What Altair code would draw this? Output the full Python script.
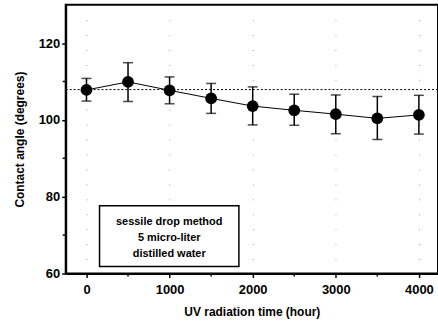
import altair as alt
import pandas as pd

hours = [0, 500, 1000, 1500, 2000, 2500, 3000, 3500, 4000]
angle = [107.8, 109.9, 107.7, 105.6, 103.6, 102.5, 101.5, 100.4, 101.3]
err_hi = [110.8, 114.9, 111.2, 109.5, 108.6, 106.7, 106.5, 106.1, 106.4]
err_lo = [104.9, 104.8, 104.2, 101.7, 98.7, 98.6, 96.4, 94.9, 96.3]
ref_angle = 107.9
legend_lines = ["sessile drop method", "5 micro-liter", "distilled water"]
y_minor = [70, 90, 110]
x_minor = [500, 1500, 2500, 3500]

df = pd.DataFrame({"h": hours, "a": angle, "hi": err_hi, "lo": err_lo})
FONT = "Liberation Sans"

xs = alt.Scale(domain=[-250, 4230], nice=False, zero=False)
ys = alt.Scale(domain=[60, 130], nice=False, zero=False)

xax = alt.Axis(values=[0, 1000, 2000, 3000, 4000], format="d", title="UV radiation time (hour)",
               grid=True, gridColor="#666", gridDash=[1, 14], gridOpacity=0.6,
               domainColor="black", domainWidth=2, tickColor="black", tickWidth=1.5,
               tickSize=4, labelPadding=6, labelFont=FONT, labelFontSize=13,
               labelFontWeight="bold", labelColor="black", titleFont=FONT,
               titleFontSize=12, titleFontWeight="bold", titleColor="black",
               titlePadding=10)
yax = alt.Axis(values=[60, 80, 100, 120], title="Contact angle (degrees)", grid=False,
               domainColor="black", domainWidth=2, tickColor="black", tickWidth=1.5,
               tickSize=4, labelPadding=2, labelFont=FONT, labelFontSize=13,
               labelFontWeight="bold", labelColor="black", titleFont=FONT,
               titleFontSize=12, titleFontWeight="bold", titleColor="black",
               titlePadding=12)


def X(f):
    return alt.X(f, scale=xs, axis=xax)


def Y(f):
    return alt.Y(f, scale=ys, axis=yax)


base = alt.Chart(df)

line = base.mark_line(color="black", strokeWidth=1).encode(x=X("h:Q"), y=Y("a:Q"))

errs = base.mark_errorbar(color="black", ticks=alt.TickConfig(size=10, thickness=1.5),
                          thickness=1.5).encode(x=X("h:Q"), y=Y("lo:Q"), y2="hi:Q")

pts = base.mark_circle(color="black", size=140, opacity=1).encode(x=X("h:Q"), y=Y("a:Q"))

ref = alt.Chart(pd.DataFrame({"r": [ref_angle]})).mark_rule(
    color="black", strokeDash=[2, 2], strokeWidth=1).encode(
    y=Y("r:Q"), x=alt.value(0), x2=alt.value(374))

ymin = alt.Chart(pd.DataFrame({"v": y_minor})).mark_rule(color="black", strokeWidth=1.5).encode(
    y=Y("v:Q"), x=alt.value(-3), x2=alt.value(0))
xmin = alt.Chart(pd.DataFrame({"v": x_minor})).mark_rule(color="black", strokeWidth=1.5).encode(
    x=X("v:Q"), y=alt.value(270), y2=alt.value(273))

box = alt.Chart(pd.DataFrame({"k": [0]})).mark_rect(
    fill="white", stroke="black", strokeWidth=1.5).encode(
    x=alt.value(34), x2=alt.value(174), y=alt.value(202), y2=alt.value(263))

text_layers = []
for i, t in enumerate(legend_lines):
    text_layers.append(
        alt.Chart(pd.DataFrame({"t": [t]})).mark_text(
            font=FONT, fontSize=11, fontWeight="bold", color="black", align="center",
            baseline="middle").encode(text="t:N", x=alt.value(104), y=alt.value(218 + 16 * i)))

chart = alt.layer(line, ref, errs, pts, ymin, xmin, box, *text_layers).properties(
    width=374, height=270,
    padding={"left": 66, "top": 4, "right": 0, "bottom": 50},
    autosize=alt.AutoSizeParams(type="none"),
    background="white").configure_view(stroke="black", strokeWidth=2)

chart.save("out.html", embed_options={"renderer": "svg", "actions": False})
